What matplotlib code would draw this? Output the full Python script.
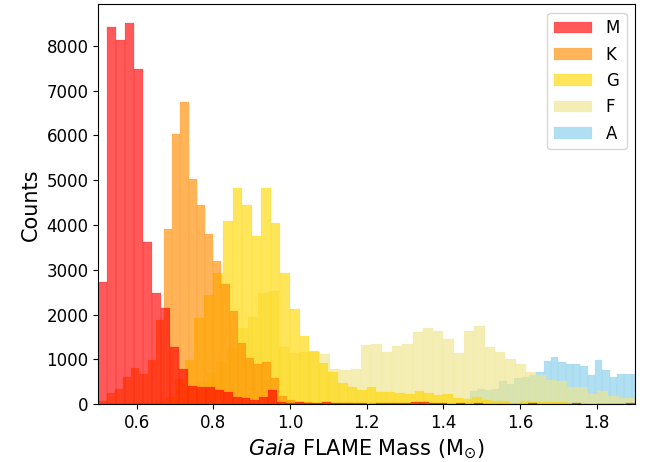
import numpy as np
import matplotlib.pyplot as plt

# spectral classes, legend order
classes = ['M', 'K', 'G', 'F', 'A']
colors = ['red', 'darkorange', 'gold', 'khaki', 'skyblue']

# each class has its own binning: first edge and bin width (Msun)
bin_start = {'M': 0.5, 'K': 0.5, 'G': 0.5, 'F': 0.5134, 'A': 1.4504}
bin_width = {'M': 0.02333, 'K': 0.0214, 'G': 0.025, 'F': 0.02687, 'A': 0.01918}

m_counts = [2725, 8410, 8120, 8500, 7475, 3617, 2480, 2145, 1275, 785,
            405, 390, 390, 316, 272, 160, 138, 94, 160, 316,
            40, 20, 40, 30, 20, 60, 30, 20, 20, 20,
            15, 20, 20, 25, 30, 40, 60, 25, 20, 15,
            20, 15, 30, 15, 10, 10, 15, 10, 20, 10,
            10, 10, 10, 30, 10, 10, 10, 10, 10, 30]

k_counts = [71, 250, 340, 607, 807, 673, 985, 1877, 3906, 6024,
            6738, 5021, 4441, 3795, 3193, 2680, 2078, 1372, 1030, 896,
            940, 591, 183, 94, 60, 40, 30, 25, 20, 20,
            20, 15, 15, 20, 15, 10, 15, 10, 10, 10,
            10, 5, 5, 5, 5, 5, 5, 5, 5, 5]

g_counts = [10, 10, 15, 15, 20, 30, 60, 167, 562, 985,
            1922, 2430, 2925, 4085, 4821, 4441, 3750, 4821, 4040, 2925,
            2123, 1520, 1186, 918, 718, 473, 385, 316, 385, 272,
            272, 249, 227, 294, 249, 205, 227, 138, 123, 160,
            100, 78, 78, 27, 71, 49, 40, 40, 60, 30,
            30, 15, 30, 25, 20, 20, 20]

f_counts = [10, 15, 20, 30, 50, 80, 130, 200, 320, 480,
            700, 950, 1250, 1700, 1950, 2480, 2520, 1282, 1149, 1171,
            1160, 1119, 785, 763, 785, 1320, 1342, 1164, 1298, 1342,
            1610, 1699, 1632, 1454, 1142, 1632, 1744, 1275, 1164, 1008,
            889, 718, 651, 540, 510, 377, 377, 227, 294, 183,
            138, 138, 130]

a_counts = [60, 294, 338, 316, 338, 517, 450, 584, 607, 651,
            718, 963, 1052, 941, 896, 896, 852, 651, 985, 763,
            607, 673, 673, 673, 673]

counts = {'M': m_counts, 'K': k_counts, 'G': g_counts, 'F': f_counts, 'A': a_counts}

fig = plt.figure(figsize=(6.54, 4.62), dpi=100)
ax = fig.add_axes([0.1505, 0.125, 0.8205, 0.8656])

# hotter classes first so the cooler ones sit on top
for name, col in reversed(list(zip(classes, colors))):
    c = np.array(counts[name], dtype=float)
    edges = bin_start[name] + bin_width[name] * np.arange(len(c) + 1)
    ax.hist(edges[:-1], bins=edges, weights=c, color=col, alpha=0.65,
            edgecolor=col, linewidth=0.15, label=name)

ax.set_xlim(0.5, 1.9)
ax.set_ylim(0, 8925)
ax.tick_params(labelsize=12)
ax.set_xlabel(r'$\it{Gaia}$ FLAME Mass (M$_{\odot}$)', fontsize=15)
ax.set_ylabel('Counts', fontsize=15)

handles, labels = ax.get_legend_handles_labels()
ax.legend(handles[::-1], labels[::-1], loc='upper right', fontsize=12,
          handlelength=2.3)

fig.savefig('out.png', dpi=100)
